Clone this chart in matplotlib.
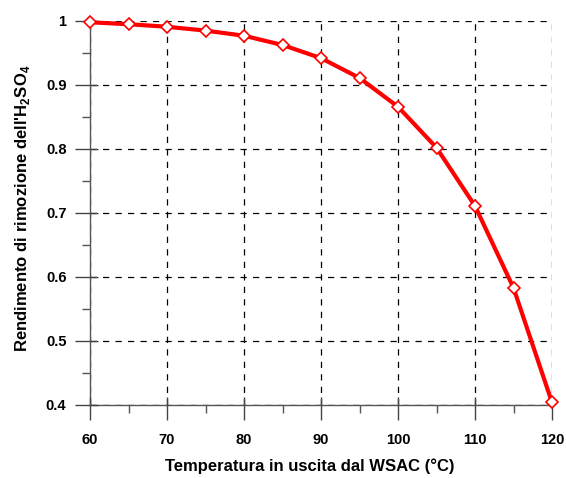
import numpy as np
import matplotlib.pyplot as plt
from matplotlib.ticker import MultipleLocator

plt.rcParams['font.family'] = ['Liberation Sans', 'DejaVu Sans']
plt.rcParams['font.weight'] = 'bold'
plt.rcParams['mathtext.fontset'] = 'custom'
plt.rcParams['mathtext.rm'] = 'Liberation Sans:bold'
plt.rcParams['mathtext.bf'] = 'Liberation Sans:bold'

# temperatura in uscita (°C) e rendimento di rimozione
temp = [60, 65, 70, 75, 80, 85, 90, 95, 100, 105, 110, 115, 120]
rend = [0.998, 0.995, 0.991, 0.985, 0.977, 0.9625, 0.942, 0.911,
        0.866, 0.802, 0.711, 0.583, 0.404]
ytick_vals = [0.4, 0.5, 0.6, 0.7, 0.8, 0.9, 1.0]
ytick_labs = ['0.4', '0.5', '0.6', '0.7', '0.8', '0.9', '1']

pos = [90/566, 1-405/478, 462/566, 384/478]
fig = plt.figure(figsize=(5.66, 4.78), dpi=100)
ax = fig.add_axes(pos)

ax.set_xlim(60, 120)
ax.set_ylim(0.4, 1.0)
ax.xaxis.set_major_locator(MultipleLocator(10))
ax.xaxis.set_minor_locator(MultipleLocator(5))
ax.set_yticks(ytick_vals)
ax.set_yticklabels(ytick_labs)
ax.yaxis.set_minor_locator(MultipleLocator(0.05))

for s in ['top', 'right']:
    ax.spines[s].set_visible(False)
for s in ['left', 'bottom']:
    ax.spines[s].set_color('#555555')
    ax.spines[s].set_linewidth(1.0)

ax.tick_params(which='major', direction='out', length=11, width=1.0,
               color='#444444', labelsize=10.5)
ax.tick_params(which='minor', direction='out', length=6, width=1.0,
               color='#555555')
ax.tick_params(axis='x', which='major', pad=9)
ax.tick_params(axis='y', which='major', pad=6)

ax.grid(True, which='major', color='black', linestyle=(0, (5, 5)), lw=0.9)

# inner part of the major ticks
ax2 = fig.add_axes(pos, frameon=False, sharex=ax, sharey=ax)
ax2.tick_params(which='major', direction='in', length=6, width=1.0,
                color='#444444', labelleft=False, labelbottom=False)
ax2.tick_params(which='minor', length=0)
ax2.patch.set_visible(False)

ax2.plot(temp, rend, color='red', lw=3, marker='D', ms=6,
         mfc='white', mec='red', mew=1.2, zorder=3, clip_on=False)

ax.set_xlabel('Temperatura in uscita dal WSAC (°C)', fontsize=12,
              fontweight='bold')
ax.set_ylabel("Rendimento di rimozione dell'H$_2$SO$_4$", fontsize=12,
              fontweight='bold')
ax.xaxis.set_label_coords(0.476, -0.138)
ax.yaxis.set_label_coords(-0.126, 0.512)

fig.savefig('out.png', dpi=100)
